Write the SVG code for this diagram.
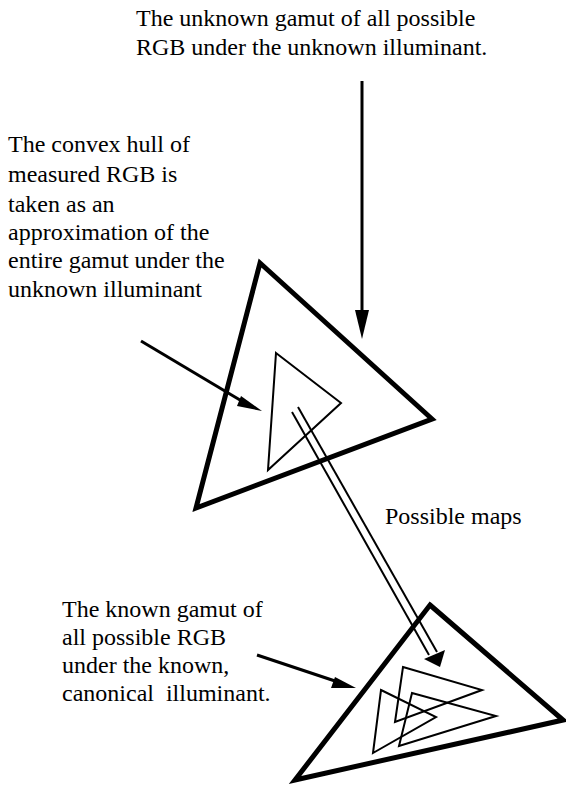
<svg xmlns="http://www.w3.org/2000/svg" width="566" height="785" viewBox="0 0 566 785">
<style>
text { font-family: "Liberation Serif", "Times New Roman", serif; font-size: 24px; fill: #000; white-space: pre; }
.thick { fill: none; stroke: #000; stroke-width: 5; stroke-linejoin: miter; }
.thin { fill: none; stroke: #000; stroke-width: 2; stroke-linejoin: miter; }
.conn { fill: none; stroke: #000; stroke-width: 3; }
.dbl { fill: none; stroke: #000; stroke-width: 2; }
</style>
<g id="label-top">
<text x="136" y="26">The unknown gamut of all possible</text>
<text x="136" y="55">RGB under the unknown illuminant.</text>
</g>
<g id="label-left">
<text x="8" y="152">The convex hull of</text>
<text x="8" y="182">measured RGB is</text>
<text x="8" y="212">taken as an</text>
<text x="8" y="240">approximation of the</text>
<text x="8" y="268">entire gamut under the</text>
<text x="8" y="297">unknown illuminant</text>
</g>
<g id="label-maps">
<text x="385" y="524">Possible maps</text>
</g>
<g id="label-bottom">
<text x="62" y="617">The known gamut of</text>
<text x="62" y="645">all possible RGB</text>
<text x="62" y="673">under the known,</text>
<text x="62" y="701" xml:space="preserve">canonical  illuminant.</text>
</g>
<g id="unknown-gamut">
<polygon class="thick" points="260,263 432,419 196,508"/>
</g>
<g id="measured-hull">
<polygon class="thin" points="276,353 341,403 268,470"/>
</g>
<g id="canonical-gamut">
<polygon class="thick" points="430,605 563,720 295,780"/>
</g>
<g id="mapped-hulls">
<polygon class="thin" points="403,667 482,690 395,722"/>
<polygon class="thin" points="412,693 496,716 399,746"/>
<polygon class="thin" points="381,690 436,717 373,753"/>
</g>
<g id="connectors">
<line class="conn" x1="362" y1="81" x2="362" y2="310"/>
<path d="M355,310 L369,310 L362,339 z" fill="#000"/>
<line class="conn" x1="141" y1="341" x2="245" y2="403"/>
<path d="M241,396 L262,411 L237,406 z" fill="#000"/>
<line class="conn" x1="257" y1="655" x2="338" y2="682"/>
<path d="M335,677 L356,688 L331,688 z" fill="#000"/>
<line class="dbl" x1="292" y1="412" x2="429" y2="655"/>
<line class="dbl" x1="298" y1="407" x2="437" y2="652"/>
<path d="M424,659 L445,650 L440,667 z" fill="#000"/>
</g>
</svg>
